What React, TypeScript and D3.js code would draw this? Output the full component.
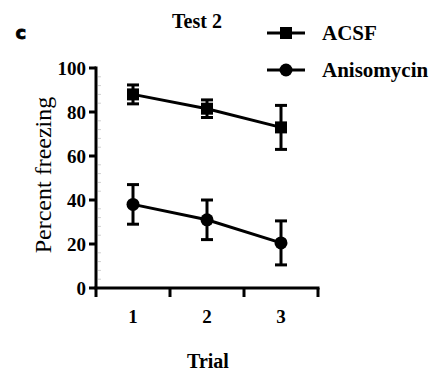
import React from "react";
import * as d3 from "d3";

const trials = ["1", "2", "3"];
const acsfMean = [88, 81.5, 73];
const acsfErr = [4.3, 4, 10];
const anisoMean = [38, 31, 20.5];
const anisoErr = [9, 9, 10];
const yTicks = [0, 20, 40, 60, 80, 100];
const minorTicks = d3.range(4, 100, 4).filter((v) => v % 20 !== 0);

const W = 435;
const H = 374;
const serif = "'Liberation Serif', 'Times New Roman', Times, serif";

export default function App() {
  const x = d3.scaleBand<string>().domain(trials).range([96, 318]).padding(0);
  const y = d3.scaleLinear().domain([0, 100]).range([288, 68]);
  const cx = (t: string) => (x(t) as number) + x.bandwidth() / 2;
  const line = d3
    .line<number>()
    .x((_, i) => cx(trials[i]))
    .y((d) => y(d));

  const series = [
    { name: "ACSF", mean: acsfMean, err: acsfErr, shape: "square" },
    { name: "Anisomycin", mean: anisoMean, err: anisoErr, shape: "circle" },
  ];

  const marker = (shape: string, px: number, py: number, key: string) =>
    shape === "square" ? (
      <rect key={key} x={px - 6} y={py - 6} width={12} height={12} fill="#000" />
    ) : (
      <circle key={key} cx={px} cy={py} r={6.5} fill="#000" />
    );

  return (
    <svg
      width={W}
      height={H}
      style={{ position: "absolute", left: 0, top: 0, background: "#fff" }}
    >
      <rect width={W} height={H} fill="#fff" />
      {/* panel letter */}
      <text x={15.5} y={38.5} fontFamily="'DejaVu Sans', sans-serif" fontWeight={900} fontSize={18} stroke="#000" strokeWidth={0.8}>
        c
      </text>
      {/* title */}
      <text x={197} y={28} textAnchor="middle" fontFamily={serif} fontWeight="bold" fontSize={20}>
        Test 2
      </text>

      {/* minor ticks (faint) */}
      {minorTicks.map((v) => (
        <line key={"m" + v} x1={98} x2={101} y1={y(v)} y2={y(v)} stroke="#d0d0d0" strokeWidth={1} />
      ))}

      {/* y axis */}
      <line x1={96} x2={96} y1={y(100) - 1.5} y2={297} stroke="#000" strokeWidth={3} />
      {yTicks.map((v) => (
        <g key={"y" + v}>
          <line x1={89} x2={96} y1={y(v)} y2={y(v)} stroke="#000" strokeWidth={3} />
          <text
            x={86}
            y={y(v)}
            dy="0.35em"
            textAnchor="end"
            fontFamily={serif}
            fontWeight="bold"
            fontSize={19}
          >
            {v}
          </text>
        </g>
      ))}
      <text
        transform={`translate(51,175) rotate(-90)`}
        textAnchor="middle"
        fontFamily={serif}
        fontSize={24}
      >
        Percent freezing
      </text>

      {/* x axis */}
      <line x1={94.5} x2={319.5} y1={y(0)} y2={y(0)} stroke="#000" strokeWidth={3} />
      {trials.map((t) => (
        <line
          key={"xt" + t}
          x1={(x(t) as number) + x.bandwidth()}
          x2={(x(t) as number) + x.bandwidth()}
          y1={y(0)}
          y2={297}
          stroke="#000"
          strokeWidth={3}
        />
      ))}
      {trials.map((t) => (
        <text
          key={"xl" + t}
          x={cx(t)}
          y={323}
          textAnchor="middle"
          fontFamily={serif}
          fontWeight="bold"
          fontSize={19}
        >
          {t}
        </text>
      ))}
      <text x={208} y={368} textAnchor="middle" fontFamily={serif} fontWeight="bold" fontSize={20}>
        Trial
      </text>

      {/* series */}
      {series.map((s) => (
        <g key={s.name}>
          <path d={line(s.mean) as string} fill="none" stroke="#000" strokeWidth={3} />
          {s.mean.map((m, i) => {
            const px = cx(trials[i]);
            const top = y(m + s.err[i]);
            const bot = y(m - s.err[i]);
            return (
              <g key={i}>
                <line x1={px} x2={px} y1={top} y2={bot} stroke="#000" strokeWidth={3} />
                <line x1={px - 6} x2={px + 6} y1={top} y2={top} stroke="#000" strokeWidth={3} />
                <line x1={px - 6} x2={px + 6} y1={bot} y2={bot} stroke="#000" strokeWidth={3} />
                {marker(s.shape, px, y(m), "mk" + i)}
              </g>
            );
          })}
        </g>
      ))}

      {/* legend */}
      {series.map((s, i) => {
        const ly = 33 + i * 37;
        return (
          <g key={"lg" + s.name}>
            <line x1={267} x2={305} y1={ly} y2={ly} stroke="#000" strokeWidth={3} />
            {marker(s.shape, 286, ly, "lm" + i)}
            <text x={322} y={ly} dy="0.35em" fontFamily={serif} fontWeight="bold" fontSize={21}>
              {s.name}
            </text>
          </g>
        );
      })}
    </svg>
  );
}
